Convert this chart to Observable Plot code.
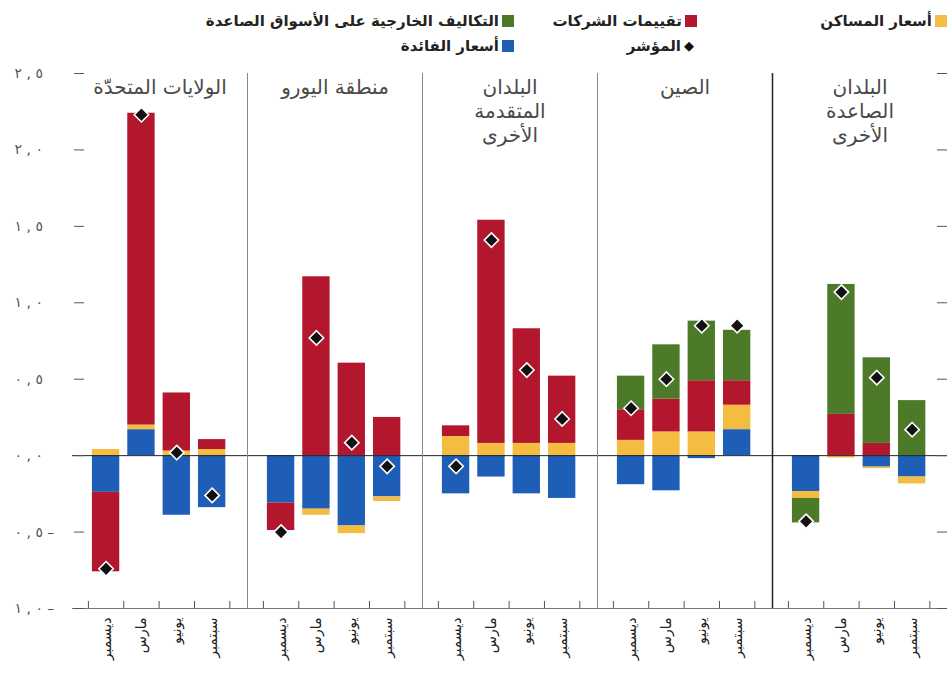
<!DOCTYPE html>
<html lang="ar">
<head>
<meta charset="utf-8">
<script src="https://cdn.jsdelivr.net/npm/d3@7"></script>
<script src="https://cdn.jsdelivr.net/npm/@observablehq/plot@0.6"></script>
<style>
  html, body { margin: 0; padding: 0; background: #fff; overflow: hidden; }
  #wrap { position: relative; width: 949px; height: 682px; font-family: "DejaVu Sans", "Noto Sans", sans-serif; }
  #legend { position: absolute; left: 0; top: 0; width: 949px; height: 60px; }
  .item { position: absolute; direction: rtl; white-space: nowrap; font-family: "DejaVu Sans", sans-serif; font-size: 15px; font-weight: bold; color: #222; line-height: 20px; display: flex; align-items: center; }
  .sw { display: inline-block; width: 12px; height: 12px; margin-left: 3px; }
  .dia { display: inline-block; font-size: 13px; margin-left: 3px; color: #111; }
  #chart { position: absolute; left: 0; top: 60px; }
</style>
</head>
<body>
<div id="wrap">
  <div id="legend"></div>
  <div id="chart"></div>
</div>
<script>
// ---- data ----
const regions = ["الولايات المتحدة", "منطقة اليورو", "البلدان المتقدمة الأخرى", "الصين", "البلدان الصاعدة الأخرى"];
const regionTitles = ["الولايات المتحدّة", "منطقة اليورو", "البلدان\nالمتقدمة\nالأخرى", "الصين", "البلدان\nالصاعدة\nالأخرى"];
const months = ["ديسمبر", "مارس", "يونيو", "سبتمبر"];
const components = ["أسعار الفائدة", "أسعار المساكن", "تقييمات الشركات", "التكاليف الخارجية على الأسواق الصاعدة"];
const indexLabel = "المؤشر";
const componentColors = ["#1F5EB6", "#F4BC40", "#B3172D", "#4D7A28"];

// values per region (US, Euro area, other AEs, China, other EMs) x month (Dec, Mar, Jun, Sep)
const ratesValues   = [-0.24, 0.17, -0.39, -0.34,  -0.31, -0.35, -0.46, -0.27,  -0.25, -0.14, -0.25, -0.28,  -0.19, -0.23, -0.02, 0.17,  -0.235, 0, -0.075, -0.14];
const housingValues = [0.04, 0.03, 0.03, 0.04,  0, -0.04, -0.05, -0.03,  0.125, 0.08, 0.08, 0.08,  0.10, 0.155, 0.155, 0.16,  -0.045, -0.015, -0.01, -0.045];
const equityValues  = [-0.52, 2.04, 0.38, 0.065,  -0.18, 1.17, 0.605, 0.25,  0.07, 1.46, 0.75, 0.44,  0.20, 0.215, 0.335, 0.16,  0, 0.27, 0.08, 0];
const emCostValues  = [0, 0, 0, 0,  0, 0, 0, 0,  0, 0, 0, 0,  0.22, 0.355, 0.39, 0.33,  -0.16, 0.85, 0.56, 0.36];
const indexValues   = [-0.74, 2.23, 0.02, -0.26,  -0.50, 0.77, 0.085, -0.07,  -0.07, 1.41, 0.56, 0.24,  0.31, 0.50, 0.85, 0.85,  -0.43, 1.07, 0.51, 0.17];
const yTicks = [-1, -0.5, 0, 0.5, 1, 1.5, 2, 2.5];

// ---- build tables ----
const series = [ratesValues, housingValues, equityValues, emCostValues];
const rows = [];
regions.forEach((r, ri) => months.forEach((m, mi) => components.forEach((c, ci) => {
  const v = series[ci][ri * months.length + mi];
  if (v !== 0) rows.push({region: r, month: mi, comp: c, value: v});
})));
const idx = [];
regions.forEach((r, ri) => months.forEach((m, mi) => idx.push({region: r, month: mi, value: indexValues[ri * months.length + mi]})));

const arabicDigits = "٠١٢٣٤٥٦٧٨٩";
const LRM = "\u200E";
const fmt = d => {
  const [a, b] = Math.abs(d).toFixed(1).replace(/\d/g, c => arabicDigits[+c]).split(".");
  const s = a + LRM + " " + LRM + "," + LRM + " " + LRM + b;
  return d < 0 ? s + LRM + " –" : s;
};

// ---- legend ----
const legend = document.getElementById("legend");
const legendSpec = [
  {label: components[1], color: componentColors[1], right: 2, top: 11},
  {label: components[2], color: componentColors[2], right: 252, top: 11},
  {label: components[3], color: componentColors[3], right: 435, top: 11},
  {label: indexLabel, color: null, right: 255, top: 36},
  {label: components[0], color: componentColors[0], right: 435, top: 36}
];
for (const s of legendSpec) {
  const div = document.createElement("div");
  div.className = "item";
  div.style.right = s.right + "px";
  div.style.top = s.top + "px";
  const mark = document.createElement("span");
  if (s.color) { mark.className = "sw"; mark.style.background = s.color; }
  else { mark.className = "dia"; mark.textContent = "◆"; }
  div.appendChild(mark);
  div.appendChild(document.createTextNode(s.label));
  legend.appendChild(div);
}

// ---- chart ----
const xDomain = [-0.45, 4.5];
const chart = Plot.plot({
  width: 949,
  height: 622,
  marginTop: 13,
  marginBottom: 74,
  marginLeft: 70,
  marginRight: 0,
  style: {fontFamily: "DejaVu Sans, Noto Sans, sans-serif", background: "white", overflow: "visible"},
  fx: {domain: regions, padding: 0, axis: null, label: null},
  x: {domain: xDomain, axis: null, label: null},
  y: {domain: [-1, 2.5], axis: null, label: null},
  color: {domain: components, range: componentColors},
  marks: [
    // bars
    Plot.rectY(rows, {fx: "region", x: "month", interval: 1, y: "value", fill: "comp", insetLeft: 4, insetRight: 4}),
    // zero and bottom lines
    Plot.ruleY([0], {stroke: "#222", strokeWidth: 1}),
    Plot.ruleY([-1], {stroke: "#777", strokeWidth: 1}),
    // panel separators
    Plot.ruleX(regions.slice(1, 4), {fx: d => d, x: xDomain[0], stroke: "#888", strokeWidth: 1}),
    Plot.ruleX(regions.slice(4), {fx: d => d, x: xDomain[0], stroke: "#222", strokeWidth: 1.5}),
    // index diamonds
    Plot.dot(idx, {fx: "region", x: d => d.month + 0.5, y: "value", symbol: "diamond2", r: 6.5, fill: "#111", stroke: "#fff", strokeWidth: 1.6}),
    // panel titles
    Plot.text(regions, {fx: d => d, text: (d, i) => regionTitles[i], frameAnchor: "top", lineAnchor: "top", dy: 3, fontSize: 20, lineHeight: 1.2, fill: "#4a4a4a"}),
    // y axis labels (left) and inward ticks
    Plot.axisY(yTicks, {anchor: "left", label: null, tickSize: 0, tickPadding: 58, textAnchor: "start", tickFormat: fmt, fontSize: 14, fill: "#555"}),
    Plot.axisY(yTicks, {anchor: "left", label: null, tickSize: 10, dx: 12, tickFormat: () => "", stroke: "#555"}),
    Plot.axisY(yTicks, {anchor: "right", label: null, tickSize: 10, dx: -11, tickFormat: () => "", stroke: "#555"}),
    // x ticks between bars, and month labels
    Plot.axisX([0, 1, 2, 3, 4], {anchor: "bottom", label: null, tickSize: 7, dy: -7, tickFormat: () => "", stroke: "#555"}),
    Plot.axisX([0.5, 1.5, 2.5, 3.5], {anchor: "bottom", label: null, tickSize: 0, tickPadding: 9, tickRotate: -90, tickFormat: d => months[Math.floor(d)], fontSize: 14, fill: "#222"})
  ]
});
document.getElementById("chart").appendChild(chart);
</script>
</body>
</html>
